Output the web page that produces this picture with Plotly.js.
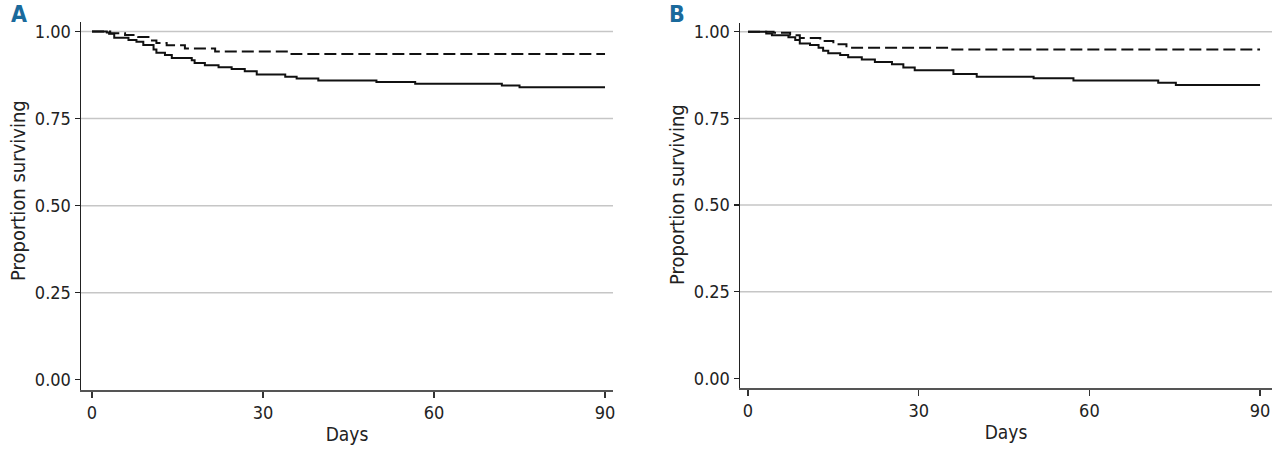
<!DOCTYPE html>
<html>
<head>
<meta charset="utf-8">
<script src="https://cdn.plot.ly/plotly-3.0.1.min.js"></script>
<style>html,body{margin:0;padding:0;background:#fff;}#chart{width:1280px;height:454px;}</style>
</head>
<body>
<div id="chart"></div>
<script>
// Panel A
const daysA_solid = [0, 2.6, 3.0, 3.9, 6.4, 7.8, 9.0, 10.8, 11.3, 12.8, 14.0, 17.5, 18.0, 19.8, 22.2, 24.5, 26.8, 28.9, 33.9, 35.9, 39.7, 49.9, 56.7, 71.9, 75.0, 90];
const survA_solid = [1.000, 0.997, 0.993, 0.982, 0.975, 0.970, 0.961, 0.948, 0.939, 0.932, 0.924, 0.917, 0.909, 0.903, 0.897, 0.892, 0.886, 0.876, 0.870, 0.865, 0.859, 0.855, 0.850, 0.845, 0.840, 0.840];
const daysA_dash = [0, 3.2, 5.8, 8.1, 9.9, 11.3, 13.1, 16.3, 21.6, 35.0, 90];
const survA_dash = [1.000, 0.995, 0.990, 0.984, 0.974, 0.967, 0.960, 0.951, 0.942, 0.935, 0.935];
// Panel B
const daysB_solid = [0, 3.2, 4.2, 7.1, 8.3, 9.1, 10.9, 12.4, 13.2, 14.1, 16.2, 17.6, 20.0, 22.3, 25.3, 27.3, 29.3, 36.1, 40.2, 50.2, 57.2, 72.1, 75.2, 90];
const survB_solid = [1.000, 0.995, 0.990, 0.984, 0.976, 0.966, 0.962, 0.954, 0.945, 0.938, 0.933, 0.926, 0.920, 0.913, 0.906, 0.897, 0.889, 0.878, 0.870, 0.866, 0.859, 0.853, 0.846, 0.846];
const daysB_dash = [0, 4.5, 7.4, 9.1, 12.7, 15.0, 17.3, 35.2, 90];
const survB_dash = [1.000, 0.997, 0.990, 0.982, 0.973, 0.964, 0.954, 0.949, 0.949];

const xTicks = [0, 30, 60, 90];
const yTicks = [0, 0.25, 0.5, 0.75, 1];
const yTickText = ['0.00', '0.25', '0.50', '0.75', '1.00'];
const gridVals = [0.25, 0.5, 0.75, 1];
const panelLabels = ['A', 'B'];
const xTitle = 'Days';
const yTitle = 'Proportion surviving';

const FONT = '"Liberation Sans Narrow", "DejaVu Sans Condensed", "Roboto Condensed", sans-serif';
const solidLine = {color: '#111', width: 2, shape: 'hv'};
const dashLine = {color: '#111', width: 2, shape: 'hv', dash: '12px,5px'};

const traces = [
  {x: daysA_dash, y: survA_dash, mode: 'lines', line: dashLine, xaxis: 'x', yaxis: 'y', hoverinfo: 'skip'},
  {x: daysA_solid, y: survA_solid, mode: 'lines', line: solidLine, xaxis: 'x', yaxis: 'y', hoverinfo: 'skip'},
  {x: daysB_dash, y: survB_dash, mode: 'lines', line: dashLine, xaxis: 'x2', yaxis: 'y2', hoverinfo: 'skip'},
  {x: daysB_solid, y: survB_solid, mode: 'lines', line: solidLine, xaxis: 'x2', yaxis: 'y2', hoverinfo: 'skip'}
];

function xax(domain, range, anchor) {
  return {
    domain: domain, range: range, anchor: anchor,
    tickvals: xTicks, ticktext: xTicks.map(String),
    ticks: 'outside', ticklen: 6, tickwidth: 1.2, tickcolor: '#333',
    showline: true, linecolor: '#555', linewidth: 1.5,
    showgrid: false, zeroline: false,
    tickfont: {family: FONT, size: 18, color: '#222'},
    title: {text: xTitle, font: {family: FONT, size: 19, color: '#222'}, standoff: 5}
  };
}
function yax(domain, range, anchor) {
  return {
    domain: domain, range: range, anchor: anchor,
    tickvals: yTicks, ticktext: yTickText,
    ticks: 'outside', ticklen: 5, tickwidth: 1.2, tickcolor: '#222',
    showline: true, linecolor: '#222', linewidth: 1.5,
    showgrid: false, zeroline: false,
    tickfont: {family: FONT, size: 18, color: '#222'}
  };
}

const shapes = [];
[['x', 'y'], ['x2', 'y2']].forEach(([xr, yr]) => {
  gridVals.forEach(v => {
    shapes.push({type: 'line', xref: xr + ' domain', yref: yr, x0: 0, x1: 1, y0: v, y1: v,
      line: {color: '#c6c6c6', width: 1.5}, layer: 'below'});
  });
});

const annotations = [
  {text: '<b>' + panelLabels[0] + '</b>', xref: 'paper', yref: 'paper', x: 19 / 1280, y: 1 - 14 / 454,
   xanchor: 'center', yanchor: 'middle', showarrow: false, font: {family: FONT, size: 23, color: '#1a6a9c'}},
  {text: '<b>' + panelLabels[1] + '</b>', xref: 'paper', yref: 'paper', x: 677 / 1280, y: 1 - 14 / 454,
   xanchor: 'center', yanchor: 'middle', showarrow: false, font: {family: FONT, size: 23, color: '#1a6a9c'}},
  {text: yTitle, xref: 'paper', yref: 'paper', x: 18 / 1280, y: 1 - 191 / 454, textangle: -90,
   xanchor: 'center', yanchor: 'middle', showarrow: false, font: {family: FONT, size: 20, color: '#222'}},
  {text: yTitle, xref: 'paper', yref: 'paper', x: 677 / 1280, y: 1 - 195 / 454, textangle: -90,
   xanchor: 'center', yanchor: 'middle', showarrow: false, font: {family: FONT, size: 20, color: '#222'}}
];

const layout = {
  width: 1280, height: 454,
  margin: {l: 0, r: 0, t: 0, b: 0},
  paper_bgcolor: '#fff', plot_bgcolor: '#fff',
  showlegend: false,
  xaxis: xax([81 / 1280, 613 / 1280], [-1.93, 91.4], 'y'),
  yaxis: yax([1 - 390 / 454, 1 - 22 / 454], [-0.029, 1.027], 'x'),
  xaxis2: xax([740 / 1280, 1272 / 1280], [-1.41, 92.1], 'y2'),
  yaxis2: yax([1 - 388 / 454, 1 - 22.7 / 454], [-0.0277, 1.026], 'x2'),
  shapes: shapes,
  annotations: annotations
};

Plotly.newPlot('chart', traces, layout, {displayModeBar: false, staticPlot: true});
</script>
</body>
</html>
